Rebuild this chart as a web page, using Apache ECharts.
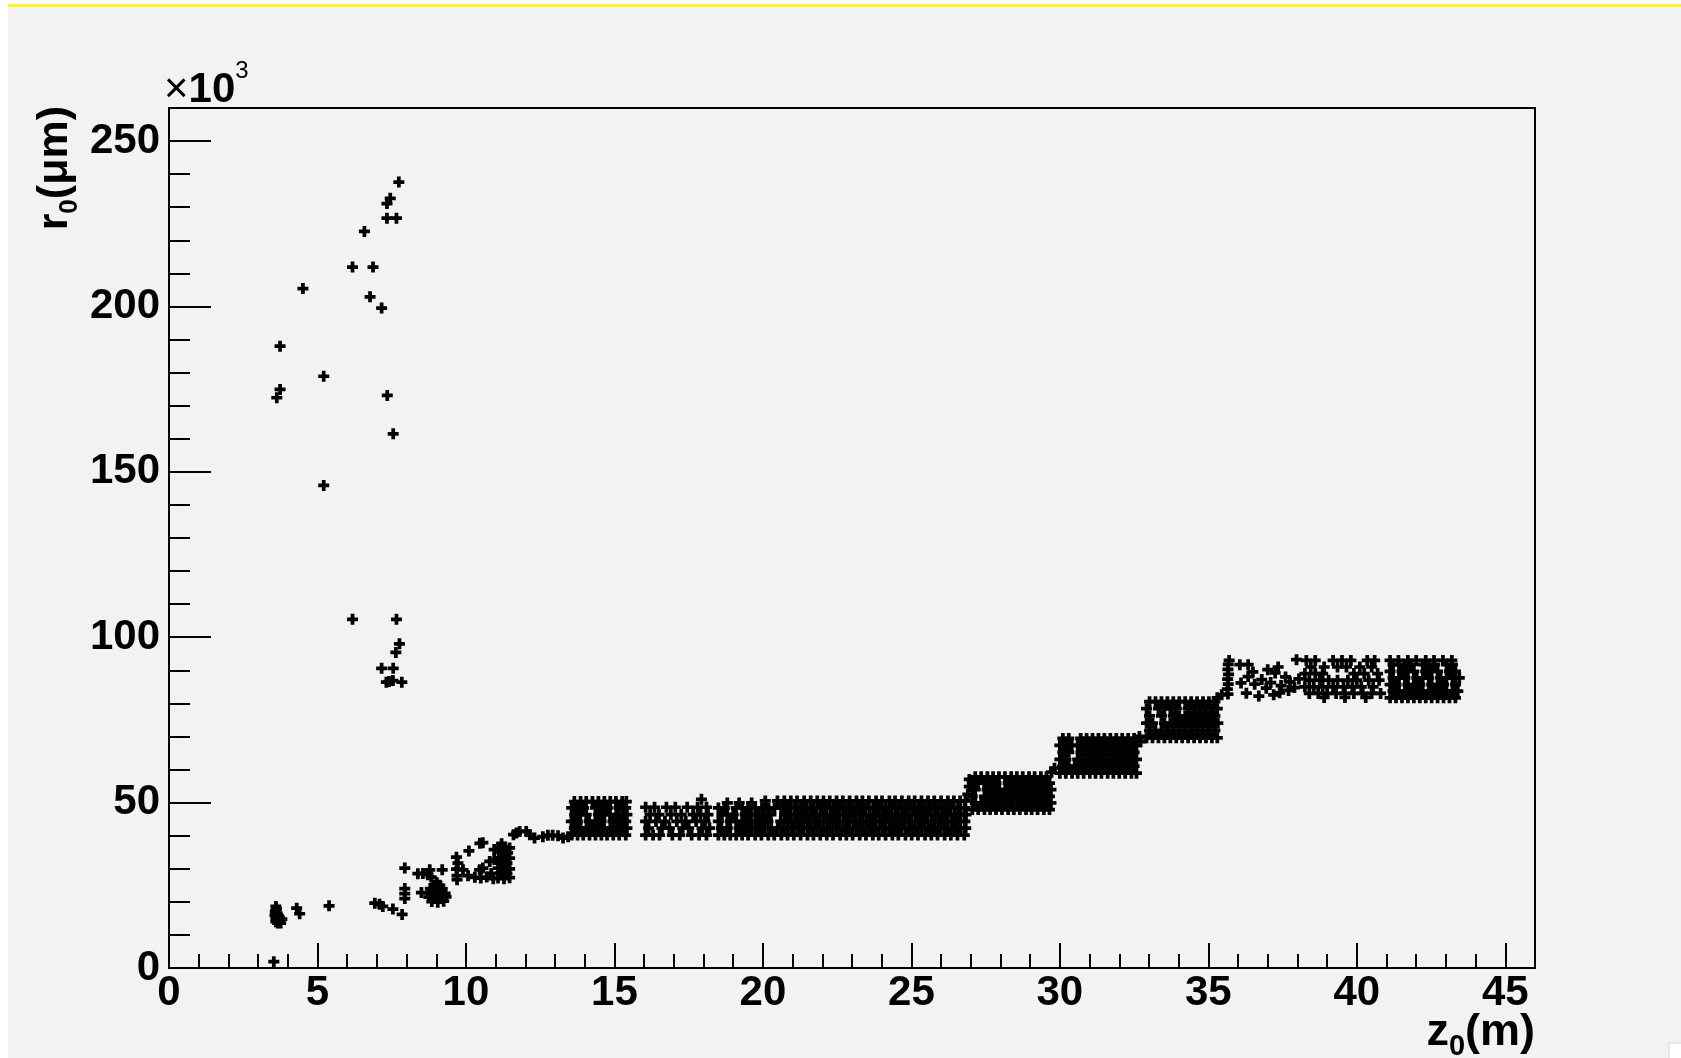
<!DOCTYPE html>
<html><head><meta charset="utf-8">
<script src="https://cdn.jsdelivr.net/npm/echarts@6/dist/echarts.min.js"></script>
<style>html,body{margin:0;padding:0;background:#fff}#c{width:1681px;height:1058px}</style>
</head><body><div id="c"></div>
<script>
// z0 in m, r0 in units of 10^3 um
const xMajorTicks = [0,5,10,15,20,25,30,35,40,45];
const xMinorTicks = [1,2,3,4,6,7,8,9,11,12,13,14,16,17,18,19,21,22,23,24,26,27,28,29,31,32,33,34,36,37,38,39,41,42,43,44];
const yMajorTicks = [0,50,100,150,200,250];
const yMinorTicks = [10,20,30,40,60,70,80,90,110,120,130,140,160,170,180,190,210,220,230,240];

const strayHigh = [[7.74,237.6],[7.45,232.7],[7.34,231.1],[7.34,226.7],[7.66,226.7],[6.58,222.7],[6.18,211.9],[6.87,211.9],[4.51,205.4],[6.77,202.9],[7.16,199.5],[3.74,188.0],[5.21,178.9],[3.74,174.9],[3.63,172.4],[7.35,173.1],[7.55,161.5],[5.21,145.9],[6.18,105.4],[7.66,105.4],[7.76,98.0],[7.64,95.4],[7.16,90.6],[7.55,90.6],[7.32,86.4],[7.41,86.6],[7.54,86.9],[7.84,86.4]];

const lowCluster = [[3.53,1.9],[3.6,18.6],[3.62,17.9],[3.58,17.2],[3.64,16.6],[3.57,16.0],[3.66,15.5],[3.6,14.9],[3.72,15.3],[3.8,14.8],[3.7,14.2],[3.6,14.0],[3.66,13.6],[3.76,13.6],[3.62,16.3],[4.3,18.1],[4.4,16.4],[5.39,18.8],[6.93,19.6],[7.09,19.3],[7.2,18.6],[7.54,17.8],[7.85,16.2]];

const riseCluster = [[7.94,30.2],[7.94,24.0],[7.94,22.5],[7.94,21.0],[8.38,28.5],[8.55,28.6],[8.78,29.7],[8.83,27.5],[9.2,29.7],[8.5,22.8],[8.72,28.2],[8.85,20.1],[9.05,19.9],[9.25,20.2],[8.75,21.4],[8.95,21.5],[9.15,21.3],[9.33,21.5],[8.72,22.7],[8.9,22.6],[9.1,22.8],[9.3,22.6],[8.8,24.0],[9.0,24.1],[9.2,23.9],[8.95,25.1],[9.12,25.0],[9.02,25.8],[9.68,33.5],[9.73,31.7],[9.68,29.9],[9.9,29.7],[9.7,27.9],[9.7,26.7],[10.07,27.9],[10.1,35.4],[10.47,37.7],[10.57,37.9],[10.3,27.4],[10.5,27.2],[10.7,27.5],[10.85,28.6],[10.46,29.7],[10.57,30.2],[10.8,32.2],[11.08,27.2],[11.28,27.0],[11.47,27.3],[11.18,28.7],[11.38,28.6],[11.08,30.2],[11.28,30.3],[11.47,30.0],[11.18,31.8],[11.38,31.7],[11.1,33.3],[11.3,33.4],[11.47,33.2],[11.2,35.0],[11.4,34.8],[11.1,36.5],[11.3,36.6],[11.47,36.3],[11.2,37.6],[10.92,27.0],[10.95,35.8],[10.95,32.8]];

const stepLinks = [[11.6,40.3],[11.7,40.8],[11.81,41.3],[12.03,41.3],[12.15,40.3],[12.31,39.3],[12.59,39.7],[12.76,40.1],[12.92,40.1],[13.1,40.0],[13.27,39.3],[13.44,39.7],[17.93,51.0],[26.9,52.5],[26.95,54.8],[26.95,57.0],[29.72,59.2],[29.82,60.4],[32.68,70.0],[32.72,68.4],[35.3,81.7],[35.45,82.6]];

// rows: [r0, z0, z0, ...]
const plateau1Rows = [
 [40.2,13.56,13.76,13.95,14.16,14.36,14.56,14.75,14.96,15.16,15.38],
 [42.3,13.65,13.86,14.06,14.26,14.46,14.65,14.86,15.06,15.26,15.42],
 [44.3,13.55,13.75,14.15,14.36,14.55,14.95,15.16,15.38],
 [46.4,13.66,13.85,14.05,14.46,14.66,14.85,15.06,15.27,15.42],
 [48.4,13.56,13.76,13.96,14.36,14.56,14.76,15.15,15.38],
 [50.3,13.65,13.86,14.05,14.26,14.46,14.66,14.86,15.05,15.26,15.4]
];
const plateau2Rows = [
 [40.2,16.05,16.3,16.52,16.95,17.2,17.6,17.85,18.1],
 [42.3,16.15,16.6,16.85,17.3,17.5,17.95,18.2],
 [44.3,16.05,16.4,16.7,17.1,17.4,17.75,18.05],
 [46.4,16.2,16.5,16.9,17.25,17.65,17.9,18.15],
 [48.6,16.05,16.35,16.75,17.05,17.45,17.8,18.1]
];
const plateau3Rows = [
 [40.2,18.5,18.7,18.9,19.1,19.3,19.5,19.74],
 [42.3,18.6,18.8,19.2,19.4,19.62,19.85],
 [44.3,18.5,18.9,19.1,19.3,19.52,19.74],
 [46.4,18.62,18.8,19.0,19.4,19.6,19.85],
 [48.4,18.5,18.7,19.1,19.3,19.5,19.74],
 [49.9,18.8,19.2,19.62]
];
const plateau4Rows = [
 [40.2,19.95,20.18,20.38,20.62,20.83,21.04,21.27,21.5,21.7,21.93,22.15,22.36,22.6,22.81,23.02,23.26,23.47,23.7,23.9,24.13,24.36,24.56,24.8,25.01,25.22,25.46,25.67,25.88,26.12,26.33,26.55,26.78],
 [42.3,20.05,20.28,20.5,20.71,20.95,21.16,21.37,21.6,21.82,22.03,22.26,22.49,22.7,22.91,23.14,23.37,23.58,23.79,24.02,24.25,24.46,24.67,24.9,25.12,25.33,25.57,25.78,25.99,26.22,26.44,26.65,26.83],
 [44.3,19.96,20.17,20.6,20.84,21.05,21.26,21.49,21.72,21.92,22.16,22.38,22.58,22.82,23.04,23.25,23.48,23.68,23.92,24.12,24.35,24.58,24.78,25.0,25.24,25.45,25.68,25.9,26.1,26.34,26.56,26.8],
 [46.4,20.07,20.27,20.73,20.93,21.17,21.38,21.59,21.81,22.05,22.27,22.47,22.71,22.93,23.13,23.36,23.59,23.8,24.03,24.24,24.47,24.69,24.89,25.13,25.35,25.55,25.79,26.01,26.21,26.45,26.66,26.84],
 [48.4,19.97,20.19,20.39,20.61,20.82,21.06,21.28,21.48,21.71,21.94,22.14,22.37,22.59,22.8,23.03,23.24,23.46,23.71,23.91,24.14,24.34,24.57,24.79,25.02,25.23,25.44,25.66,25.89,26.11,26.32,26.57,26.79],
 [50.5,20.08,20.49,20.72,20.94,21.15,21.39,21.61,21.83,22.04,22.25,22.48,22.69,22.92,23.15,23.35,23.57,23.81,24.01,24.26,24.45,24.68,24.91,25.11,25.34,25.56,25.77,26.0,26.23,26.43,26.64,26.82]
];
const stepARows = [
 [47.9,27.05,27.25,27.46,27.65,27.85,28.05,28.26,28.45,28.65,28.86,29.05,29.25,29.46,29.65],
 [49.9,27.15,27.35,27.55,27.76,27.95,28.15,28.35,28.56,28.75,28.95,29.16,29.35,29.55,29.7],
 [51.9,27.05,27.46,27.65,27.86,28.05,28.25,28.45,28.66,28.85,29.05,29.26,29.45,29.65],
 [53.9,27.15,27.55,27.75,27.96,28.16,28.35,28.55,28.76,28.96,29.15,29.35,29.56,29.7],
 [55.9,27.05,27.25,27.45,27.66,27.85,28.26,28.46,28.65,28.85,29.06,29.25,29.45,29.65],
 [57.8,27.15,27.35,27.56,27.75,27.95,28.15,28.36,28.55,28.75,28.96,29.15,29.36,29.55]
];
const stepBRows = [
 [58.9,30.0,30.2,30.41,30.6,30.8,31.01,31.2,31.4,31.61,31.8,32.0,32.2,32.41,32.58],
 [61.0,30.1,30.3,30.5,30.71,30.9,31.1,31.31,31.5,31.7,31.9,32.11,32.3,32.5],
 [63.1,30.0,30.2,30.6,30.8,31.0,31.21,31.4,31.6,31.8,32.01,32.2,32.4,32.58],
 [65.2,30.1,30.3,30.71,30.9,31.1,31.3,31.51,31.7,31.9,32.1,32.3,32.5],
 [67.3,30.0,30.2,30.4,30.6,30.81,31.0,31.2,31.4,31.6,31.81,32.0,32.2,32.4,32.58],
 [69.4,30.1,30.3,30.7,30.9,31.1,31.3,31.5,31.7,31.9,32.1,32.3,32.5]
];
const stepCRows = [
 [69.6,32.92,33.12,33.32,33.52,33.72,33.92,34.12,34.32,34.52,34.72,34.92,35.12,35.3],
 [71.8,33.02,33.22,33.42,33.62,33.82,34.02,34.22,34.42,34.62,34.82,35.02,35.22],
 [74.0,32.92,33.12,33.52,33.72,33.92,34.12,34.32,34.52,34.72,34.92,35.12,35.32],
 [76.2,33.02,33.42,33.82,34.02,34.22,34.42,34.62,34.82,35.02,35.22],
 [78.4,32.92,33.32,33.52,33.72,33.92,34.32,34.52,34.72,34.92,35.12,35.3],
 [80.5,33.02,33.22,33.42,33.62,33.82,34.02,34.22,34.42,34.62,34.82,35.02,35.22]
];
const tailEdge = [[35.66,82.8],[35.64,84.3],[35.67,85.8],[35.65,87.3],[35.68,88.8],[35.66,90.3],[35.67,91.8],[35.7,93.0]];
const tailSparse = [[36.06,91.7],[36.34,91.7],[36.34,88.1],[36.28,83.1],[36.56,85.8],[36.8,87.2],[36.95,84.6],[37.1,86.3],[37.25,89.2],[37.35,91.0],[37.45,85.4],[37.6,88.0],[37.7,83.9],[37.75,86.5],[37.97,93.2],[37.9,84.8],[38.05,87.4],[36.7,82.2],[37.2,82.6],[36.1,86.2],[37.0,90.2],[36.5,89.5],[37.4,83.2]];
const tailMidRows = [
 [93.0,38.3,38.6,39.2,39.5,39.8,40.35,40.6],
 [91.0,38.45,38.9,39.35,39.65,40.1,40.5],
 [89.0,38.25,38.6,38.85,39.9,40.25,40.7],
 [87.0,38.4,38.75,39.05,39.35,39.7,40.0,40.4,40.75],
 [85.0,38.25,38.55,38.85,39.2,39.55,39.85,40.15,40.55],
 [83.0,38.4,38.7,39.0,39.3,39.6,39.9,40.2,40.5,40.8],
 [81.8,38.9,39.6,40.3]
];
const tailDenseRows = [
 [81.7,41.12,41.32,41.52,41.72,41.92,42.12,42.32,42.52,42.72,42.92,43.12,43.32],
 [83.7,41.22,41.42,41.62,41.82,42.02,42.22,42.42,42.62,42.82,43.02,43.22,43.4],
 [85.7,41.12,41.32,41.72,41.92,42.12,42.52,42.72,42.92,43.32],
 [87.7,41.22,41.42,41.62,42.02,42.22,42.42,42.82,43.02,43.22,43.45],
 [89.7,41.12,41.52,41.72,41.92,42.32,42.52,42.72,43.12,43.32],
 [91.7,41.22,41.42,41.62,41.82,42.22,42.42,42.62,43.02,43.22],
 [93.0,41.12,41.4,41.72,42.0,42.32,42.6,42.9,43.2]
];

function rowsToPoints(rows){ return rows.flatMap(([r, ...zs]) => zs.map(z => [z, r])); }
const allPoints = [].concat(
  strayHigh, lowCluster, riseCluster, stepLinks,
  rowsToPoints(plateau1Rows), rowsToPoints(plateau2Rows), rowsToPoints(plateau3Rows), rowsToPoints(plateau4Rows),
  rowsToPoints(stepARows), rowsToPoints(stepBRows), rowsToPoints(stepCRows),
  tailEdge, tailSparse, rowsToPoints(tailMidRows), rowsToPoints(tailDenseRows)
);

const FF = '"Liberation Sans", Arial, sans-serif';
const BLACK = '#000';
const labelStyle = {fontSize: 42, fontWeight: 'bold', fontFamily: FF, color: BLACK};
const chart = echarts.init(document.getElementById('c'), null, {renderer: 'canvas'});
chart.setOption({
  animation: false,
  backgroundColor: '#f2f2f2',
  grid: {left: 169, right: 146, top: 108, bottom: 90, show: true, borderColor: BLACK, borderWidth: 2, backgroundColor: 'transparent', outerBoundsMode: 'none'},
  xAxis: [
    {type: 'value', min: 0, max: 46, position: 'bottom',
     axisLine: {show: true, onZero: false, lineStyle: {color: BLACK, width: 2}},
     axisTick: {show: true, inside: true, length: 25, customValues: xMajorTicks, lineStyle: {color: BLACK, width: 2}},
     axisLabel: Object.assign({show: true, margin: 4, customValues: xMajorTicks}, labelStyle),
     splitLine: {show: false}, minorTick: {show: false}},
    {type: 'value', min: 0, max: 46, position: 'bottom',
     axisLine: {show: false, onZero: false},
     axisTick: {show: true, inside: true, length: 14, customValues: xMinorTicks, lineStyle: {color: BLACK, width: 2}},
     axisLabel: {show: false}, splitLine: {show: false}}
  ],
  yAxis: [
    {type: 'value', min: 0, max: 260, position: 'left',
     axisLine: {show: true, onZero: false, lineStyle: {color: BLACK, width: 2}},
     axisTick: {show: true, inside: true, length: 42, customValues: yMajorTicks, lineStyle: {color: BLACK, width: 2}},
     axisLabel: Object.assign({show: true, margin: 9, customValues: yMajorTicks}, labelStyle),
     splitLine: {show: false}},
    {type: 'value', min: 0, max: 260, position: 'left',
     axisLine: {show: false, onZero: false},
     axisTick: {show: true, inside: true, length: 21, customValues: yMinorTicks, lineStyle: {color: BLACK, width: 2}},
     axisLabel: {show: false}, splitLine: {show: false}}
  ],
  series: [{
    type: 'scatter', xAxisIndex: 0, yAxisIndex: 0,
    symbol: 'path://M3.3 0H6.7V3.3H10V6.7H6.7V10H3.3V6.7H0V3.3H3.3Z',
    symbolSize: 11, itemStyle: {color: BLACK, opacity: 1},
    data: allPoints, silent: true, large: false
  }],
  graphic: [
    {type: 'rect', z: 1, silent: true, shape: {x: 0, y: 0, width: 1681, height: 4}, style: {fill: '#fff'}},
    {type: 'rect', z: 1, silent: true, shape: {x: 0, y: 0, width: 8, height: 1058}, style: {fill: '#fff'}},
    {type: 'rect', z: 1, silent: true, shape: {x: 8, y: 4, width: 1673, height: 3}, style: {fill: '#fbf52a'}},
    {type: 'rect', z: 1, silent: true, shape: {x: 1669, y: 1043, width: 14, height: 17}, style: {fill: '#fff', stroke: '#d8d8d8', lineWidth: 1}},
    {type: 'text', z: 10, silent: true, x: 164, y: 111,
     style: {text: '{m|×}{n|10}{s|3}', align: 'left', verticalAlign: 'bottom',
       rich: {
         m: {fontSize: 42, fontFamily: FF, fill: BLACK, verticalAlign: 'bottom', padding: [10,0,0,0]},
         n: {fontSize: 42, fontWeight: 'bold', fontFamily: FF, fill: BLACK, verticalAlign: 'bottom', padding: [10,0,0,0]},
         s: {fontSize: 24, fontFamily: FF, fill: BLACK, verticalAlign: 'top'}
       }}},
    {type: 'text', z: 10, silent: true, x: 1535, y: 1010,
     style: {text: '{m|z}{s|0}{m|(m)}', align: 'right', verticalAlign: 'top',
       rich: {
         m: {fontSize: 45, fontWeight: 'bold', fontFamily: FF, fill: BLACK, lineHeight: 45, verticalAlign: 'top'},
         s: {fontSize: 29, fontWeight: 'bold', fontFamily: FF, fill: BLACK, lineHeight: 29, padding: [22,0,0,0], verticalAlign: 'top'}
       }}},
    {type: 'text', z: 10, silent: true, x: 34, y: 106, rotation: Math.PI / 2,
     style: {text: '{m|r}{s|0}{m|(μm)}', align: 'right', verticalAlign: 'top',
       rich: {
         m: {fontSize: 43, fontWeight: 'bold', fontFamily: FF, fill: BLACK, lineHeight: 43, verticalAlign: 'top'},
         s: {fontSize: 26, fontWeight: 'bold', fontFamily: FF, fill: BLACK, lineHeight: 26, padding: [23,0,0,0], verticalAlign: 'top'}
       }}}
  ]
});
</script></body></html>
